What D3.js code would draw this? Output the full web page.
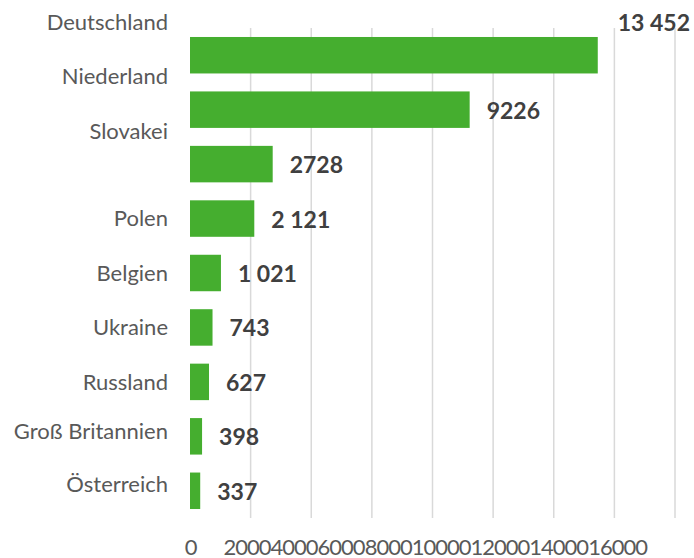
<!DOCTYPE html>
<html>
<head>
<meta charset="utf-8">
<script src="https://cdn.jsdelivr.net/npm/d3@7"></script>
<style>
  body { margin: 0; background: #fff; }
  svg { display: block; }
</style>
</head>
<body>
<svg id="chart"></svg>
<script>
var countries = ["Deutschland", "Niederland", "Slovakei", "Polen", "Belgien",
                 "Ukraine", "Russland", "Groß Britannien", "Österreich"];
var values = [13452, 9226, 2728, 2121, 1021, 743, 627, 398, 337];
var valueLabels = ["13 452", "9226", "2728", "2 121", "1 021", "743", "627", "398", "337"];
var tickValues = [0, 2000, 4000, 6000, 8000, 10000, 12000, 14000, 16000];

var width = 694, height = 558;
var font = "Lato, 'Open Sans', sans-serif";

var svg = d3.select("#chart").attr("width", width).attr("height", height);

var x = d3.scaleLinear().domain([0, 16000]).range([190, 675]);
var y = d3.scaleBand()
    .domain(d3.range(countries.length))
    .range([28, 518])
    .paddingInner(0.33)
    .paddingOuter(0.165);

// gridlines (no line at zero)
svg.append("g").selectAll("line")
  .data(tickValues.filter(function(d) { return d > 0; }))
  .enter().append("line")
    .attr("x1", function(d) { return x(d); })
    .attr("x2", function(d) { return x(d); })
    .attr("y1", 28)
    .attr("y2", 518)
    .style("stroke", "#d9d9d9")
    .style("stroke-width", 1.5);

// bars
svg.append("g").selectAll("rect")
  .data(values)
  .enter().append("rect")
    .attr("x", x(0))
    .attr("y", function(d, i) { return y(i); })
    .attr("width", function(d) { return x(d) - x(0); })
    .attr("height", y.bandwidth())
    .style("fill", "#45ae2f");

// the first labels sit shifted up in the original
var shift = -y.step() * 0.61;

svg.append("g").selectAll("text")
  .data(countries)
  .enter().append("text")
    .attr("x", 168)
    .attr("y", function(d, i) {
      var c = y(i) + y.bandwidth() / 2;
      if (i < 3) c += shift;
      if (i == 7) c -= 5;
      if (i == 8) c -= 6;
      return c;
    })
    .attr("dy", "0.35em")
    .attr("text-anchor", "end")
    .style("font-family", font)
    .style("font-size", "22px")
    .style("fill", "#595959")
    .text(function(d) { return d; });

// value labels
svg.append("g").selectAll("text")
  .data(values)
  .enter().append("text")
    .attr("x", function(d, i) { return x(d) + (i == 0 ? 20 : 17); })
    .attr("y", function(d, i) {
      var c = y(i) + y.bandwidth() / 2 + 1;
      if (i == 0) c += shift;
      return c;
    })
    .attr("dy", "0.35em")
    .style("font-family", font)
    .style("font-size", "23px")
    .style("font-weight", "bold")
    .style("fill", "#404040")
    .text(function(d, i) { return valueLabels[i]; });

// x axis
var xAxis = d3.axisBottom(x).tickValues(tickValues).tickSize(0).tickPadding(0)
    .tickFormat(function(d) { return String(d); });
var gx = svg.append("g").attr("transform", "translate(0,539)").call(xAxis);
gx.select(".domain").remove();
gx.selectAll("text")
    .style("font-family", font)
    .style("font-size", "22px")
    .style("letter-spacing", "-1px")
    .style("fill", "#595959");

// labels after zero run together like in the original
var cursor = 223;
gx.selectAll(".tick").each(function(d) {
  var t = d3.select(this).select("text");
  if (d == 0) return;
  var w = t.node().getComputedTextLength();
  t.attr("text-anchor", "start").attr("x", cursor - x(d));
  cursor += w;
});
</script>
</body>
</html>
